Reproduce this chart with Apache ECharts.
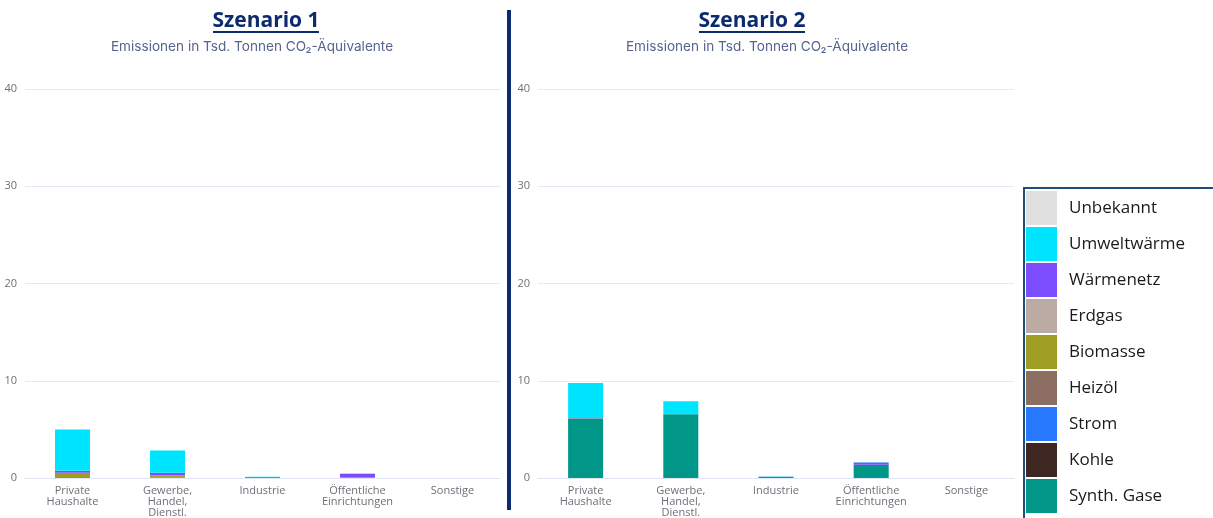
<!DOCTYPE html>
<html>
<head>
<meta charset="utf-8">
<script src="https://cdn.jsdelivr.net/npm/echarts@6/dist/echarts.min.js"></script>
<style>html,body{margin:0;padding:0;background:#fff;}#c{width:1213px;height:518px;}</style>
</head>
<body>
<div id="c"></div>
<script>
// Categories
const categories = ['Private\nHaushalte', 'Gewerbe,\nHandel,\nDienstl.', 'Industrie', 'Öffentliche\nEinrichtungen', 'Sonstige'];
const yTicks = [0, 10, 20, 30, 40];
// Energy carriers, legend order (top to bottom)
const carriers = ['Unbekannt', 'Umweltwärme', 'Wärmenetz', 'Erdgas', 'Biomasse', 'Heizöl', 'Strom', 'Kohle', 'Synth. Gase'];
const carrierColors = ['#e0e0e0', '#00e5ff', '#7c4dff', '#bcaaa4', '#9e9d24', '#8d6e63', '#2979ff', '#3e2723', '#009688'];

// Scenario 1 values (Tsd. t CO2-Äq.) per category
const s1_Unbekannt   = [0, 0, 0, 0, 0];
const s1_Umweltwaerme= [4.25, 2.3, 0.03, 0.05, 0];
const s1_Waermenetz  = [0.2, 0.28, 0.08, 0.35, 0];
const s1_Erdgas      = [0, 0.03, 0, 0, 0];
const s1_Biomasse    = [0.55, 0.2, 0, 0.07, 0];
const s1_Heizoel     = [0, 0.03, 0, 0, 0];
const s1_Strom       = [0, 0, 0.02, 0, 0];
const s1_Kohle       = [0, 0, 0, 0, 0];
const s1_Synth       = [0, 0, 0, 0, 0];

// Scenario 2 values
const s2_Unbekannt   = [0, 0, 0, 0, 0];
const s2_Umweltwaerme= [3.6, 1.35, 0.03, 0.03, 0];
const s2_Waermenetz  = [0, 0, 0, 0.25, 0];
const s2_Erdgas      = [0, 0, 0, 0, 0];
const s2_Biomasse    = [0.03, 0, 0, 0, 0];
const s2_Heizoel     = [0, 0, 0, 0, 0];
const s2_Strom       = [0.05, 0, 0.12, 0, 0];
const s2_Kohle       = [0, 0, 0, 0, 0];
const s2_Synth       = [6.1, 6.55, 0, 1.35, 0];

const scen1 = [s1_Unbekannt, s1_Umweltwaerme, s1_Waermenetz, s1_Erdgas, s1_Biomasse, s1_Heizoel, s1_Strom, s1_Kohle, s1_Synth];
const scen2 = [s2_Unbekannt, s2_Umweltwaerme, s2_Waermenetz, s2_Erdgas, s2_Biomasse, s2_Heizoel, s2_Strom, s2_Kohle, s2_Synth];

const titleColor = '#0c2a6e';
const subColor = '#56648f';
const labelColor = '#6e7079';
const font = 'Open Sans';

const chart = echarts.init(document.getElementById('c'), null, {renderer: 'canvas'});

const series = [];
[scen1, scen2].forEach((scen, si) => {
  // stack bottom -> top is reverse legend order
  for (let k = carriers.length - 1; k >= 0; k--) {
    series.push({
      type: 'bar',
      name: carriers[k],
      xAxisIndex: si,
      yAxisIndex: si,
      stack: 'st' + si,
      barWidth: 35,
      itemStyle: {color: carrierColors[k]},
      emphasis: {disabled: true},
      data: scen[k]
    });
  }
});

function xAxis(gi) {
  return {
    type: 'category', gridIndex: gi, data: categories,
    axisLine: {lineStyle: {color: '#e0e6f1'}},
    axisTick: {show: false},
    axisLabel: {color: labelColor, fontSize: 11, lineHeight: 11, margin: 7, fontFamily: font, interval: 0}
  };
}
function yAxis(gi) {
  return {
    type: 'value', gridIndex: gi, min: yTicks[0], max: yTicks[yTicks.length - 1], interval: yTicks[1] - yTicks[0],
    axisLine: {show: false}, axisTick: {show: false},
    axisLabel: {color: labelColor, fontSize: 11, margin: 8, fontFamily: font},
    splitLine: {lineStyle: {color: '#e6e8f5'}}
  };
}

chart.setOption({
  animation: false,
  backgroundColor: '#ffffff',
  title: [
    {text: 'Szenario 1', left: 266, top: 11, textAlign: 'center', padding: 0,
     textStyle: {color: titleColor, fontSize: 21, fontWeight: 'bold', fontFamily: font}},
    {text: 'Emissionen in Tsd. Tonnen CO₂-Äquivalente', left: 252, top: 40, textAlign: 'center', padding: 0,
     textStyle: {color: subColor, fontSize: 13.6, fontWeight: 'normal', fontFamily: 'Inter'}},
    {text: 'Szenario 2', left: 752, top: 11, textAlign: 'center', padding: 0,
     textStyle: {color: titleColor, fontSize: 21, fontWeight: 'bold', fontFamily: font}},
    {text: 'Emissionen in Tsd. Tonnen CO₂-Äquivalente', left: 767, top: 40, textAlign: 'center', padding: 0,
     textStyle: {color: subColor, fontSize: 13.6, fontWeight: 'normal', fontFamily: 'Inter'}}
  ],
  legend: {
    orient: 'vertical', left: 1026, top: 191, padding: 0,
    itemWidth: 31, itemHeight: 34, itemGap: 2, icon: 'rect',
    selectedMode: false,
    data: carriers,
    textStyle: {color: '#1a1a1a', fontSize: 17, fontFamily: font, padding: [0, 0, 0, 7]}
  },
  grid: [
    {left: 25, width: 475, top: 89, bottom: 39},
    {left: 538, width: 476, top: 89, bottom: 39}
  ],
  xAxis: [xAxis(0), xAxis(1)],
  yAxis: [yAxis(0), yAxis(1)],
  series: series,
  graphic: [
    {type: 'rect', shape: {x: 507, y: 10, width: 4, height: 500}, style: {fill: '#0c2a6e'}},
    {type: 'line', shape: {x1: 213, y1: 32, x2: 319, y2: 32}, style: {stroke: titleColor, lineWidth: 2}},
    {type: 'line', shape: {x1: 699, y1: 32, x2: 805, y2: 32}, style: {stroke: titleColor, lineWidth: 2}},
    {type: 'rect', shape: {x: 1024, y: 188, width: 200, height: 340}, style: {fill: 'none', stroke: '#1f4e79', lineWidth: 2}}
  ]
});
</script>
</body>
</html>
